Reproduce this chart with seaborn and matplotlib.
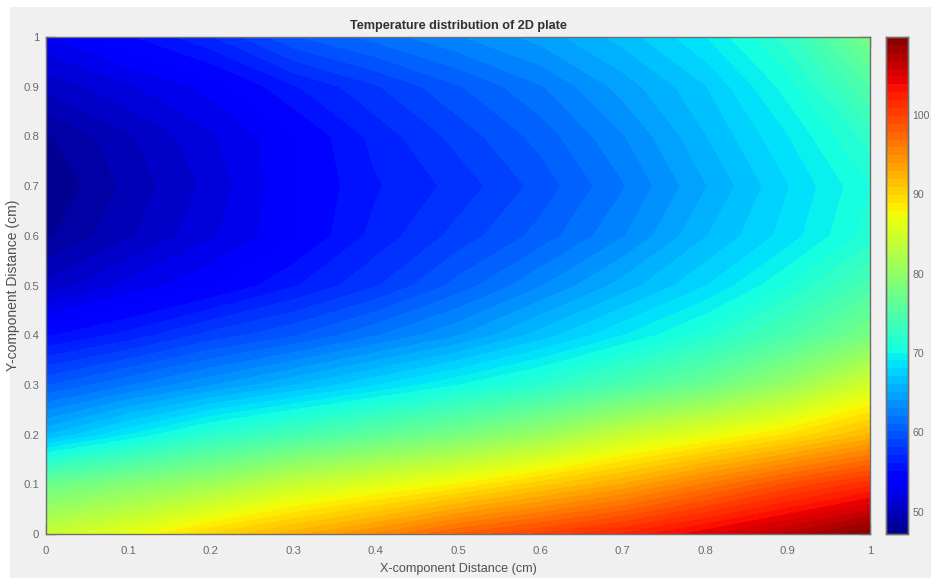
import numpy as np
import matplotlib
matplotlib.use('Agg')
import matplotlib.pyplot as plt
from matplotlib.patches import Rectangle
import seaborn as sns

x_dist = [0, 0.1, 0.2, 0.3, 0.4, 0.5, 0.6, 0.7, 0.8, 0.9, 1]
y_dist = [1, 0.9, 0.8, 0.7, 0.6, 0.5, 0.4, 0.3, 0.2, 0.1, 0]

# temperatures, one row per y, top row first
t_y100 = [53, 55, 57, 60, 61.5, 63, 64.5, 66.5, 69, 72.5, 78]
t_y090 = [50.5, 52, 53.5, 56, 58, 60, 62, 64.5, 67, 70.5, 75]
t_y080 = [48, 50, 52, 54, 56.5, 58.5, 60.5, 63, 66, 69, 72.5]
t_y070 = [47.2, 49.5, 51.5, 54, 56, 57.5, 59.5, 62, 65, 68, 71]
t_y060 = [48, 50, 52, 54, 56.5, 58.5, 60.5, 63, 66, 68.5, 71.5]
t_y050 = [50.5, 52.5, 54, 56, 58, 60.5, 63, 65.5, 68, 71, 74.5]
t_y040 = [55, 56.5, 58.5, 60, 62, 64, 66.5, 69, 71.5, 74.5, 78]
t_y030 = [60, 62, 64, 66, 68, 70, 72, 74.5, 77, 80.5, 85]
t_y020 = [66, 69, 72, 74, 76, 78, 80.5, 84, 86.5, 89, 92]
t_y010 = [77, 79, 81, 84, 86, 88, 90.5, 93, 96, 99, 101.5]
t_y000 = [84, 86.5, 90, 92.5, 95, 98, 100, 102, 104.5, 107, 109.8]

x_ticks = [0, 0.1, 0.2, 0.3, 0.4, 0.5, 0.6, 0.7, 0.8, 0.9, 1]
y_ticks = [0, 0.1, 0.2, 0.3, 0.4, 0.5, 0.6, 0.7, 0.8, 0.9, 1]
tick_labels = ['0', '0.1', '0.2', '0.3', '0.4', '0.5', '0.6', '0.7', '0.8', '0.9', '1']
cbar_ticks = [50, 60, 70, 80, 90, 100]

temps = np.array([t_y100, t_y090, t_y080, t_y070, t_y060, t_y050,
                  t_y040, t_y030, t_y020, t_y010, t_y000])

sns.set_style('white')
plt.rcParams['font.family'] = ['Liberation Sans', 'DejaVu Sans']

bg = '#f0f0f0'
grey = '#6a6a6a'
W, H = 931, 578

fig = plt.figure(figsize=(W / 100, H / 100), dpi=100, facecolor='white')
fig.add_artist(Rectangle((10 / W, 0), 1 - 10 / W, 1 - 7 / H, transform=fig.transFigure,
                         facecolor=bg, edgecolor='none', zorder=-5))

ax = fig.add_axes([46 / W, 1 - 534 / H, 824 / W, 497 / H])
cax = fig.add_axes([886 / W, 1 - 534 / H, 22 / W, 497 / H])

n_levels = 63
colors = sns.mpl_palette('jet', n_levels)
levels = np.linspace(47.2, 109.8, n_levels + 1)
cs = ax.contourf(x_dist, y_dist, temps, levels=levels, colors=colors)

ax.set_xlim(0, 1)
ax.set_ylim(0, 1)
ax.set_xticks(x_ticks, tick_labels)
ax.set_yticks(y_ticks, tick_labels)
ax.tick_params(direction='in', length=7, width=0.9, color='#404040', labelcolor=grey,
               labelsize=8.2, top=True, right=True, bottom=True, left=True)
ax.tick_params(axis='x', pad=9)
ax.tick_params(axis='y', pad=5)
ax.set_title('Temperature distribution of 2D plate', fontsize=9.1, fontweight='bold',
             color='#303030', pad=6)
ax.set_xlabel('X-component Distance (cm)', fontsize=9.1, color='#505050', labelpad=5)
ax.set_ylabel('Y-component Distance (cm)', fontsize=10, color='#505050', labelpad=2)

cbar = fig.colorbar(cs, cax=cax)
cbar.set_ticks(cbar_ticks)
cbar.ax.tick_params(direction='in', length=3, width=0.8, color='#404040',
                    labelcolor=grey, labelsize=7.6, pad=3)

for a in [ax, cax]:
    for s in a.spines.values():
        s.set_visible(True)
        s.set_color('#707070')
        s.set_linewidth(1.0)

fig.savefig('out.png', dpi=100, facecolor=fig.get_facecolor())
